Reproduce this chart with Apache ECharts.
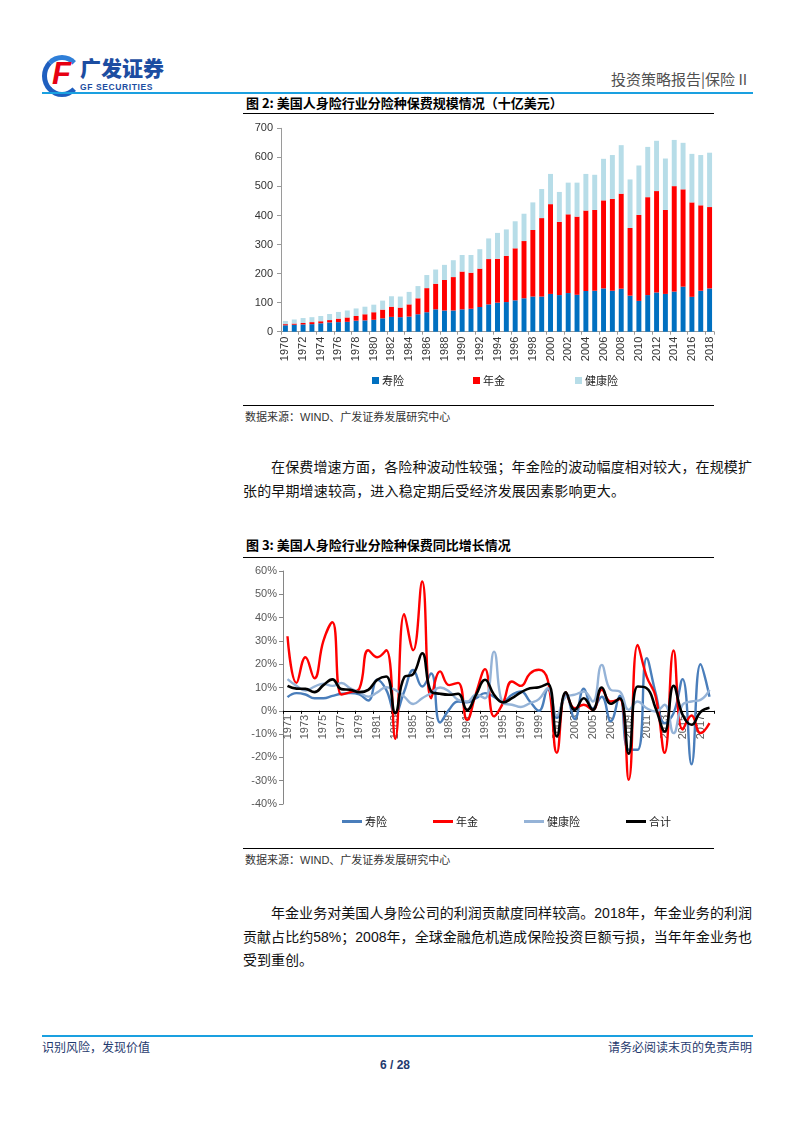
<!DOCTYPE html>
<html><head><meta charset="utf-8">
<script src="https://cdn.jsdelivr.net/npm/echarts@6/dist/echarts.min.js"></script>
<style>
body{margin:0;background:#fff;}
#page{position:relative;width:793px;height:1122px;overflow:hidden;background:#fff;font-family:"Noto Sans CJK SC","Noto Sans",sans-serif;}
.t{position:absolute;white-space:nowrap;line-height:1;}
.hl{position:absolute;height:0;}
.jl{position:absolute;font-size:14px;color:#111;line-height:1;text-align:justify;text-align-last:justify;white-space:nowrap;}
.ll{position:absolute;font-size:14px;color:#111;line-height:1;white-space:nowrap;}
.num{font-family:"Liberation Sans",Arial,sans-serif;}
</style></head>
<body><div id="page">
<!-- logo -->
<div style="position:absolute;left:42px;top:55px;width:30px;height:32px;border:5px solid #1f5fbf;border-radius:50%;border-right-color:transparent;border-top-color:#2f7fd8;"></div>
<div class="t" style="left:52px;top:56px;font:italic 900 31px 'Liberation Sans',Arial,sans-serif;color:#e60012;">F</div>
<div class="t" style="left:80px;top:57px;font-size:21px;font-weight:900;color:#1c4da1;letter-spacing:0px;">广发证券</div>
<div class="t" style="left:80px;top:82px;font:bold 8.5px 'Liberation Sans',Arial,sans-serif;color:#1c4da1;letter-spacing:0.6px;">GF SECURITIES</div>
<div class="t" style="left:611px;top:71px;font-size:15px;color:#505050;">投资策略报告|保险 II</div>
<div class="hl" style="left:42px;top:92px;width:711px;border-top:2px solid #1aa0e0;"></div>

<div class="t" style="left:246px;top:96px;font-size:13px;font-weight:bold;color:#000;">图 2: 美国人身险行业分险种保费规模情况（十亿美元）</div>
<div class="hl" style="left:243px;top:113px;width:471px;border-top:1.5px solid #000;"></div>
<div id="c1" style="position:absolute;left:230px;top:115px;width:500px;height:285px;"></div>
<div class="hl" style="left:243px;top:405px;width:471px;border-top:1px solid #000;"></div>
<div class="t" style="left:245px;top:411px;font-size:11px;color:#333;">数据来源：<span class="num">WIND</span>、广发证券发展研究中心</div>

<div class="jl" style="left:271px;top:459px;width:481px;">在保费增速方面，各险种波动性较强；年金险的波动幅度相对较大，在规模扩</div>
<div class="ll" style="left:243px;top:483px;letter-spacing:0.15px;">张的早期增速较高，进入稳定期后受经济发展因素影响更大。</div>

<div class="t" style="left:246px;top:538px;font-size:13px;font-weight:bold;color:#000;">图 3: 美国人身险行业分险种保费同比增长情况</div>
<div class="hl" style="left:243px;top:557px;width:471px;border-top:1.5px solid #000;"></div>
<div id="c2" style="position:absolute;left:230px;top:560px;width:500px;height:280px;"></div>
<div class="hl" style="left:243px;top:848px;width:471px;border-top:1px solid #000;"></div>
<div class="t" style="left:245px;top:854px;font-size:11px;color:#333;">数据来源：<span class="num">WIND</span>、广发证券发展研究中心</div>

<div class="jl" style="left:271px;top:905px;width:481px;">年金业务对美国人身险公司的利润贡献度同样较高。<span class="num">2018</span>年，年金业务的利润</div>
<div class="jl" style="left:243px;top:929px;width:509px;">贡献占比约<span class="num">58%</span>；<span class="num">2008</span>年，全球金融危机造成保险投资巨额亏损，当年年金业务也</div>
<div class="ll" style="left:243px;top:952px;">受到重创。</div>

<div class="hl" style="left:42px;top:1035px;width:711px;border-top:2px solid #1aa0e0;"></div>
<div class="t" style="left:42px;top:1041px;font-size:12px;color:#1f3a6e;">识别风险，发现价值</div>
<div class="t" style="left:608px;top:1041px;font-size:12px;color:#1f3a6e;">请务必阅读末页的免责声明</div>
<div class="t" style="left:380px;top:1058px;font:bold 12px 'Liberation Sans',Arial,sans-serif;color:#1f3a6e;">6 / 28</div>
</div>
<script>
// ---------- Chart 1 data (十亿美元) ----------
const years1 = ['1970','1971','1972','1973','1974','1975','1976','1977','1978','1979',
'1980','1981','1982','1983','1984','1985','1986','1987','1988','1989',
'1990','1991','1992','1993','1994','1995','1996','1997','1998','1999',
'2000','2001','2002','2003','2004','2005','2006','2007','2008','2009',
'2010','2011','2012','2013','2014','2015','2016','2017','2018'];
const lifePrem = [22,24,25,26,29,32,33,34,38,39, 41,46,51,50,52,60,67,77,73,73, 77,79,85,94,100,102,108,115,121,121, 130,126,133,127,140,141,149,141,148,124, 106,126,135,130,138,155,120,141,149];
const annuityPrem = [4,4,5,7,7,8,12,15,16,21, 26,30,35,33,42,55,83,88,105,115, 130,124,132,156,151,159,179,197,229,270, 309,252,271,269,277,278,303,316,327,233, 296,337,349,289,363,335,325,294,280];
const healthPrem = [11,14,17,17,18,21,23,24,26,26, 26,31,36,38,43,42,45,49,52,58, 57,61,67,71,89,91,93,94,95,100, 104,103,109,117,126,121,143,151,167,167, 170,173,173,177,159,160,167,173,187];
const yTicks1 = [0,100,200,300,400,500,600,700];

// ---------- Chart 2 data (同比, %) ----------
const years2 = ['1971','1972','1973','1974','1975','1976','1977','1978','1979',
'1980','1981','1982','1983','1984','1985','1986','1987','1988','1989',
'1990','1991','1992','1993','1994','1995','1996','1997','1998','1999',
'2000','2001','2002','2003','2004','2005','2006','2007','2008','2009',
'2010','2011','2012','2013','2014','2015','2016','2017','2018'];
const lifeGrowth = [5.9,7.6,7.0,5.4,5.4,6.4,7.3,7.6,7.0, 4.4,13.3,9.0,-1.0,8.3,17.5,10.4,16.0,-5.0,0.5, 4.0,3.6,5.4,7.6,6.0,4.0,6.9,8.3,4.0,0.0, 9.3,-3.0,7.0,-3.5,9.5,1.0,6.0,-4.5,6.5,-16.7, -16.7,22.6,7.6,-5.3,-1.0,13.6,-23.0,20.0,6.0];
const annuityGrowth = [32,12,23,14,30,38,7,8,9.5, 26,23,26,-12,41.5,26,55.5,5.4,16.9,11, 12,-3.9,7.6,17.9,-2.4,3.3,12.6,10.7,16,17.6, 13,-18,7.9,1.1,2.6,0.4,9,4,5,-29.6, 28.3,14.7,6.1,-18,25.9,-8,-2,-9.6,-5.3];
const healthGrowth = [13.6,10.7,8.7,10.4,11.6,10.7,11.9,9.7,7.9, 6.1,7.9,10.1,9,6.1,2.9,5.4,7.6,10,8.3, 4.7,4,6.9,5.4,25.4,3.3,2.6,1.6,3.3,5, 9.7,-2,6,6.9,8.3,4,19.7,9,8.3,0.4, 4,1.1,-0.3,2.6,-9.6,2.6,4,4.7,9];
const totalGrowth = [10.7,9.5,9.4,8,11,13.5,9.3,9,8, 9,13.3,14.7,-1,14.4,15.7,24.7,8.3,7.3,6.9, 7.3,0.4,6.9,13.3,6.9,3.6,5.4,7.9,9.7,10.1, 11.6,-11,7.9,0.4,5.4,0.4,10,3,5.4,-18.4, 10.4,9.7,1.1,-8.9,10.7,-1.7,-6,-0.5,1.3];
const yTicks2 = [-40,-30,-20,-10,0,10,20,30,40,50,60];

const numFont = '"Liberation Sans", Arial, sans-serif';
const cjkFont = '"Noto Sans CJK SC", sans-serif';

// ---------- Chart 1 ----------
const c1 = echarts.init(document.getElementById('c1'), null, {renderer:'canvas'});
const mkLeg = (name, left, top, w, h) => ({
  data:[name], left:left, top:top, icon:'rect', itemWidth:w, itemHeight:h, itemGap:3,
  textStyle:{fontFamily:cjkFont, fontSize:11, color:'#222', padding:[0,0,0,-2]}, selectedMode:false
});
c1.setOption({
  animation:false,
  grid:{left:51, top:13.3, width:433, height:203.4, containLabel:false},
  legend:[mkLeg('寿险',137,255,7,7), mkLeg('年金',238,255,7,7), mkLeg('健康险',340,255,7,7)],
  xAxis:{type:'category', data:years1, boundaryGap:true,
    axisLine:{lineStyle:{color:'#9a9a9a'}},
    axisTick:{show:true, length:3, lineStyle:{color:'#9a9a9a'}},
    axisLabel:{interval:1, rotate:90, fontSize:11, fontFamily:numFont, color:'#333', margin:5}},
  yAxis:{type:'value', min:yTicks1[0], max:yTicks1[yTicks1.length-1], interval:100,
    splitLine:{show:false},
    axisLine:{show:true, lineStyle:{color:'#9a9a9a'}},
    axisTick:{show:true, length:4, lineStyle:{color:'#9a9a9a'}},
    axisLabel:{fontSize:11, fontFamily:numFont, color:'#333', margin:8}},
  series:[
    {name:'寿险', type:'bar', stack:'s', data:lifePrem, barWidth:'56%', itemStyle:{color:'#0070c0'}},
    {name:'年金', type:'bar', stack:'s', data:annuityPrem, itemStyle:{color:'#ff0000'}},
    {name:'健康险', type:'bar', stack:'s', data:healthPrem, itemStyle:{color:'#b7dde8'}}
  ]
});

// ---------- Chart 2 ----------
const c2 = echarts.init(document.getElementById('c2'), null, {renderer:'canvas'});
const grid2H = 233;
const yMin2 = yTicks2[0], yMax2 = yTicks2[yTicks2.length-1];
// place the category axis on the 0% line
const zeroOffset = -grid2H * (0 - yMin2) / (yMax2 - yMin2);
const lineS = (name, data, color, w) => ({name:name, type:'line', data:data, smooth:0.45, symbol:'none',
  lineStyle:{color:color, width:w}, itemStyle:{color:color}});
c2.setOption({
  animation:false,
  grid:{left:53, top:11, width:431, height:grid2H, containLabel:false},
  legend:[mkLeg('寿险',107,251,20,3), mkLeg('年金',198,251,20,3), mkLeg('健康险',289,251,20,3), mkLeg('合计',391,251,20,3)],
  xAxis:{type:'category', data:years2, boundaryGap:true, position:'bottom', offset:zeroOffset,
    axisLine:{onZero:false, lineStyle:{color:'#000', width:1}},
    axisTick:{show:true, length:3, lineStyle:{color:'#000'}},
    axisLabel:{interval:1, rotate:90, fontSize:11, fontFamily:numFont, color:'#595959', margin:4}},
  yAxis:{type:'value', min:yMin2, max:yMax2, interval:10,
    splitLine:{show:false},
    axisLine:{show:true, lineStyle:{color:'#868686'}},
    axisTick:{show:true, length:4, lineStyle:{color:'#868686'}},
    axisLabel:{fontSize:11, fontFamily:numFont, color:'#595959', margin:6, formatter:'{value}%'}},
  series:[
    lineS('寿险', lifeGrowth, '#4a7ebb', 2.4),
    lineS('年金', annuityGrowth, '#ff0000', 2.4),
    lineS('健康险', healthGrowth, '#95b3d7', 2.4),
    lineS('合计', totalGrowth, '#000000', 2.6)
  ]
});
</script>
</body></html>
